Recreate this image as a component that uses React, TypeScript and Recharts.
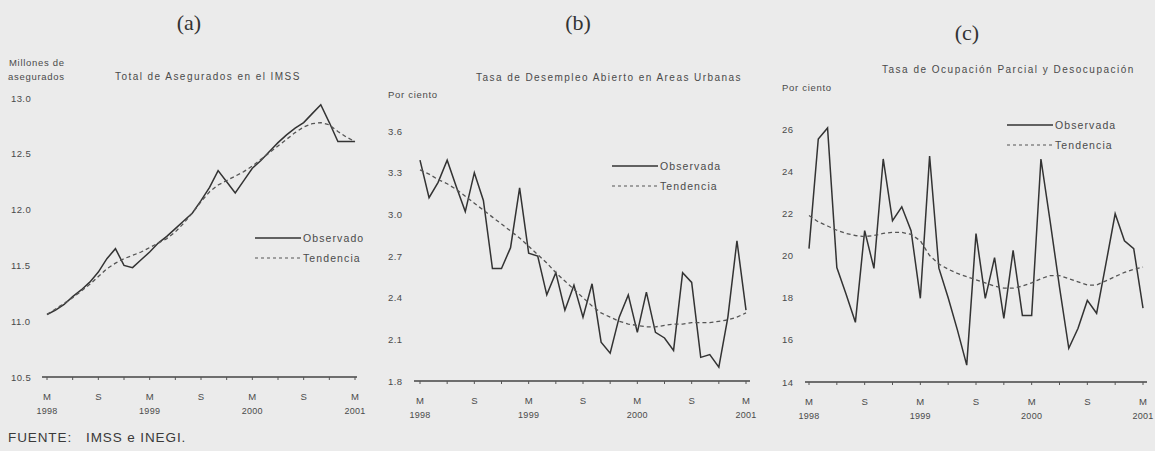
import React from "react"
import { LineChart, Line, XAxis, YAxis } from "recharts"

// meses desde marzo de 1998 (0) hasta marzo de 2001 (36)
const MONTHS = [0, 1, 2, 3, 4, 5, 6, 7, 8, 9, 10, 11, 12, 13, 14, 15, 16, 17, 18, 19, 20, 21, 22, 23, 24, 25, 26, 27, 28, 29, 30, 31, 32, 33, 34, 35, 36]
const X_TICKS = [0, 3, 6, 9, 12, 15, 18, 21, 24, 27, 30, 33, 36]
const TICK_LETTERS: Record<number, string> = { 0: "M", 6: "S", 12: "M", 18: "S", 24: "M", 30: "S", 36: "M" }
const TICK_YEARS: Record<number, string> = { 0: "1998", 12: "1999", 24: "2000", 36: "2001" }

// (a) Total de asegurados en el IMSS, millones
const ASEG_OBS = [11.06, 11.1, 11.15, 11.22, 11.28, 11.35, 11.44, 11.56, 11.65, 11.5, 11.48, 11.55, 11.62, 11.7, 11.76, 11.83, 11.9, 11.97, 12.08, 12.2, 12.35, 12.25, 12.15, 12.26, 12.37, 12.44, 12.52, 12.6, 12.67, 12.73, 12.78, 12.86, 12.94, 12.78, 12.61, 12.61, 12.61]
const ASEG_TEND = [11.06, 11.11, 11.16, 11.21, 11.27, 11.33, 11.4, 11.47, 11.52, 11.56, 11.59, 11.62, 11.66, 11.7, 11.74, 11.8, 11.88, 11.97, 12.07, 12.16, 12.22, 12.26, 12.3, 12.34, 12.39, 12.45, 12.51, 12.57, 12.63, 12.69, 12.74, 12.77, 12.78, 12.76, 12.7, 12.65, 12.61]
const Y_TICKS_A = [10.5, 11, 11.5, 12, 12.5, 13]

// (b) Tasa de desempleo abierto en áreas urbanas, por ciento
const DESEMP_OBS = [3.39, 3.12, 3.23, 3.39, 3.2, 3.02, 3.3, 3.1, 2.61, 2.61, 2.76, 3.19, 2.72, 2.7, 2.42, 2.58, 2.31, 2.49, 2.26, 2.5, 2.08, 2.0, 2.26, 2.42, 2.15, 2.44, 2.15, 2.11, 2.02, 2.58, 2.51, 1.97, 1.99, 1.9, 2.26, 2.81, 2.31]
const DESEMP_TEND = [3.32, 3.29, 3.25, 3.22, 3.18, 3.13, 3.08, 3.03, 2.98, 2.93, 2.88, 2.83, 2.77, 2.71, 2.65, 2.58, 2.52, 2.46, 2.4, 2.34, 2.29, 2.26, 2.23, 2.21, 2.2, 2.19, 2.19, 2.2, 2.21, 2.21, 2.22, 2.22, 2.22, 2.23, 2.24, 2.26, 2.29]
const Y_TICKS_B = [1.8, 2.1, 2.4, 2.7, 3.0, 3.3, 3.6]

// (c) Tasa de ocupación parcial y desocupación, por ciento
const OCUP_OBS = [20.33, 25.53, 26.05, 19.43, 18.16, 16.83, 21.18, 19.39, 24.58, 21.65, 22.31, 21.18, 17.97, 24.72, 19.4, 18.0, 16.46, 14.8, 21.04, 17.97, 19.9, 17.02, 20.24, 17.16, 17.16, 24.58, 21.6, 18.5, 15.6, 16.55, 17.87, 17.26, 19.6, 21.98, 20.7, 20.33, 17.5]
const OCUP_TEND = [21.9, 21.6, 21.4, 21.2, 21.05, 20.95, 20.9, 20.95, 21.05, 21.1, 21.1, 21.0, 20.7, 20.0, 19.6, 19.35, 19.15, 19.0, 18.85, 18.7, 18.55, 18.45, 18.45, 18.55, 18.7, 18.9, 19.05, 19.05, 18.9, 18.75, 18.6, 18.6, 18.8, 19.0, 19.2, 19.35, 19.45]
const Y_TICKS_C = [14, 16, 18, 20, 22, 24, 26]

const H = 451
const INK = "#333"
const TEXT = "#4a4a4a"
const SANS = "'Liberation Sans', Arial, sans-serif"

interface PanelProps {
  left: number
  width: number
  plotLeft: number
  plotRight: number
  plotTop: number
  plotBottom: number
  padL: number
  padR: number
  domain: [number, number]
  yTicks: number[]
  yLabelX: number
  decimals: number
  obs: number[]
  tend: number[]
}

function Panel(p: PanelProps) {
  const data = MONTHS.map((m, i) => ({ m, obs: p.obs[i], tend: p.tend[i] }))
  const xAxisH = 45
  const margin = {
    top: p.plotTop,
    bottom: H - p.plotBottom - xAxisH,
    left: 0,
    right: p.left + p.width - p.plotRight,
  }

  const YTick = ({ y, payload }: any) => (
    <text x={p.yLabelX - p.left} y={y} dy={3.5} fontSize={9.5} fill={TEXT} fontFamily={SANS} letterSpacing={0.4}>
      {payload.value.toFixed(p.decimals)}
    </text>
  )

  const XTick = ({ x, payload }: any) => {
    const v = payload.value
    const letter = TICK_LETTERS[v]
    if (!letter) return <g />
    const y0 = p.plotBottom
    return (
      <g fontFamily={SANS} fill={TEXT}>
        <text x={x} y={y0 + 23} fontSize={9.5} textAnchor="middle">{letter}</text>
        {TICK_YEARS[v] && (
          <text x={x} y={y0 + 37} fontSize={9} textAnchor="middle" letterSpacing={0.3}>{TICK_YEARS[v]}</text>
        )}
      </g>
    )
  }

  return (
    <div style={{ position: "absolute", left: p.left, top: 0 }}>
      <LineChart width={p.width} height={H} data={data} margin={margin}>
        <XAxis
          dataKey="m"
          type="number"
          domain={[0, 36]}
          ticks={X_TICKS}
          interval={0}
          padding={{ left: p.padL, right: p.padR }}
          axisLine={{ stroke: "#444", strokeWidth: 1.6 }}
          tickLine={{ stroke: "#555" }}
          tickSize={3}
          height={xAxisH}
          tick={<XTick />}
        />
        <YAxis
          type="number"
          domain={p.domain}
          ticks={p.yTicks}
          interval={0}
          width={p.plotLeft - p.left}
          axisLine={false}
          tickLine={false}
          tick={<YTick />}
        />
        <Line type="linear" dataKey="obs" stroke={INK} strokeWidth={1.5} dot={false} isAnimationActive={false} />
        <Line type="linear" dataKey="tend" stroke="#555" strokeWidth={1.3} strokeDasharray="4 3" dot={false} isAnimationActive={false} />
      </LineChart>
    </div>
  )
}

function LegendBox({ x, y, labels }: { x: number; y: number; labels: [string, string] }) {
  return (
    <g fontFamily={SANS} fontSize={10.5} fill={TEXT} letterSpacing={1.1}>
      <line x1={x} y1={y} x2={x + 46} y2={y} stroke={INK} strokeWidth={1.3} />
      <text x={x + 48} y={y + 4}>{labels[0]}</text>
      <line x1={x} y1={y + 20} x2={x + 46} y2={y + 20} stroke="#555" strokeWidth={1.2} strokeDasharray="3 3" />
      <text x={x + 48} y={y + 24}>{labels[1]}</text>
    </g>
  )
}

export default function App() {
  return (
    <div style={{ position: "absolute", left: 0, top: 0, width: 1155, height: H, background: "#ebebeb", overflow: "hidden" }}>
      <Panel
        left={0} width={380}
        plotLeft={42} plotRight={357} plotTop={98} plotBottom={377}
        padL={5} padR={2}
        domain={[10.5, 13]} yTicks={Y_TICKS_A} yLabelX={11} decimals={1}
        obs={ASEG_OBS} tend={ASEG_TEND}
      />
      <Panel
        left={380} width={390}
        plotLeft={414} plotRight={750} plotTop={131} plotBottom={381}
        padL={6} padR={4}
        domain={[1.8, 3.6]} yTicks={Y_TICKS_B} yLabelX={388} decimals={1}
        obs={DESEMP_OBS} tend={DESEMP_TEND}
      />
      <Panel
        left={770} width={385}
        plotLeft={805} plotRight={1147} plotTop={128} plotBottom={382}
        padL={4} padR={4}
        domain={[14, 26]} yTicks={Y_TICKS_C} yLabelX={782} decimals={0}
        obs={OCUP_OBS} tend={OCUP_TEND}
      />
      <svg width={1155} height={H} style={{ position: "absolute", left: 0, top: 0, pointerEvents: "none" }}>
        <g fontFamily="'Liberation Serif', 'DejaVu Serif', serif" fontSize={22} fill="#333" textAnchor="middle">
          <text x={189} y={30}>(a)</text>
          <text x={578} y={30}>(b)</text>
          <text x={967} y={40}>(c)</text>
        </g>
        <g fontFamily={SANS} fontSize={9.5} fill={TEXT} letterSpacing={0.7}>
          <text x={9} y={66}>Millones de</text>
          <text x={8} y={80}>asegurados</text>
          <text x={115} y={80} fontSize={10} letterSpacing={1.45}>Total de Asegurados en el IMSS</text>
          <text x={388} y={98}>Por ciento</text>
          <text x={476} y={81} fontSize={10} letterSpacing={1.45}>Tasa de Desempleo Abierto en Areas Urbanas</text>
          <text x={782} y={91}>Por ciento</text>
          <text x={882} y={73} fontSize={10} letterSpacing={1.5}>Tasa de Ocupación Parcial y Desocupación</text>
        </g>
        <LegendBox x={255} y={238} labels={["Observado", "Tendencia"]} />
        <LegendBox x={612} y={166} labels={["Observada", "Tendencia"]} />
        <LegendBox x={1007} y={125} labels={["Observada", "Tendencia"]} />
        <text x={8} y={442} fontFamily={SANS} fontSize={13.5} fill="#3a3a3a" letterSpacing={0.9} style={{ whiteSpace: "pre" }}>FUENTE:   IMSS e INEGI.</text>
      </svg>
    </div>
  )
}
